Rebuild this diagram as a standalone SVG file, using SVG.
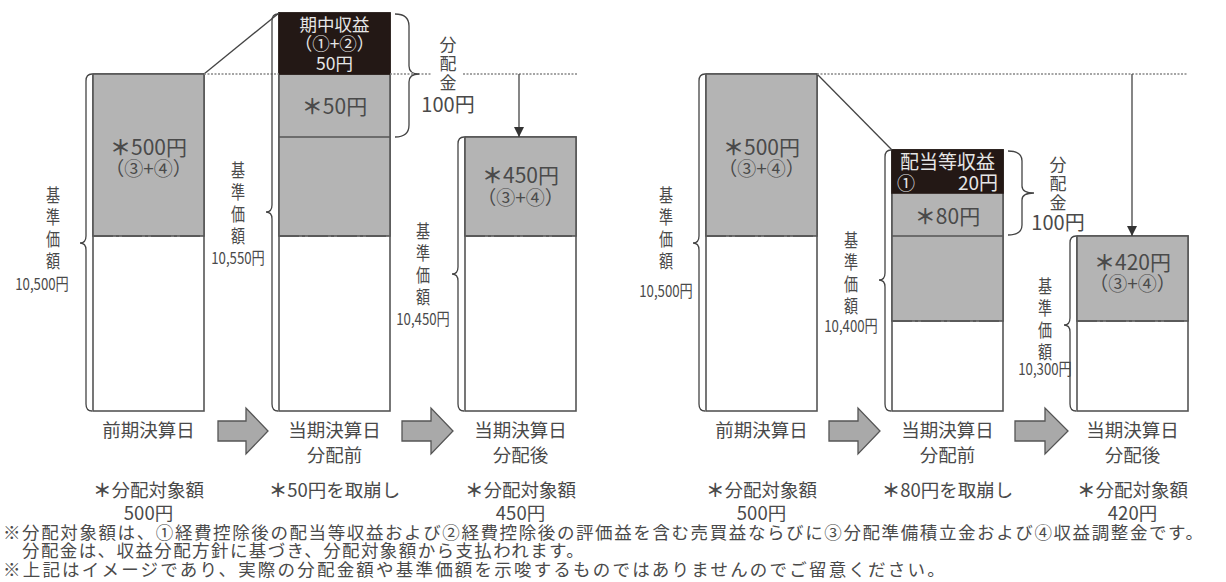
<svg xmlns="http://www.w3.org/2000/svg" width="1226" height="582" viewBox="0 0 1226 582">
<style>
text{font-family:"Noto Sans CJK JP","Noto Sans CJK SC",sans-serif;fill:#4a4a4a}
.bar{fill:#fff;stroke:#555;stroke-width:1.6}
.gray{fill:#b4b4b4;stroke:#555;stroke-width:1.6}
.blk{fill:#231815;stroke:#231815;stroke-width:1.6}
.dash{stroke:#5a5a5a;stroke-width:2;stroke-dasharray:20 3 3 3;fill:none}
.sep{stroke:#555;stroke-width:1.6}
.brace{fill:none;stroke:#444;stroke-width:1.3}
.dot{stroke:#888;stroke-width:1.6;stroke-dasharray:2 1.5;fill:none}
.line{stroke:#444;stroke-width:1.3;fill:none}
.big{font-size:21px;text-anchor:middle}
.sub{font-size:19px}
.inv{fill:#e6e6e6;font-size:17.5px;text-anchor:middle}
.lab{font-size:18.5px;text-anchor:middle}
.vt{font-size:18px;writing-mode:vertical-rl;letter-spacing:4px}
.vt2{font-size:17px;writing-mode:vertical-rl;letter-spacing:2px}
.val{font-size:16.5px;text-anchor:middle}
.note{font-size:17.5px}
.ast{font-weight:700}
.blkarrow{fill:#a9a9a9;stroke:#555;stroke-width:1.3}
</style>
<defs>
<marker id="ah" viewBox="0 0 10 10" refX="10" refY="5" markerWidth="10" markerHeight="10" markerUnits="userSpaceOnUse" orient="auto">
<path d="M0,0 L10,5 L0,10 Z" fill="#333"/>
</marker>
</defs>

<!-- LEFT DIAGRAM -->
<g id="left-bar1">
<rect class="bar" x="93" y="74" width="111" height="337"/>
<rect class="gray" x="93" y="74" width="111" height="162"/>
<line class="dash" x1="93" y1="236" x2="204" y2="236"/>
<text class="big" x="148.5" y="155"><tspan class="ast">＊</tspan>500円<tspan class="sub" x="148.5" y="176">（③+④）</tspan></text>
</g>
<g id="left-bar2">
<rect class="bar" x="279" y="13" width="111" height="398"/>
<rect class="gray" x="279" y="74" width="111" height="162"/>
<line class="sep" x1="279" y1="137" x2="390" y2="137"/>
<rect class="blk" x="279" y="13" width="111" height="61"/>
<line class="dash" x1="279" y1="236" x2="390" y2="236"/>
<text class="inv" x="334.5" y="31">期中収益<tspan x="334.5" y="50">（①+②）</tspan><tspan x="334.5" y="70">50円</tspan></text>
<text class="big" x="334.5" y="114"><tspan class="ast">＊</tspan>50円</text>
</g>
<g id="left-bar3">
<rect class="bar" x="465" y="137" width="111" height="274"/>
<rect class="gray" x="465" y="137" width="111" height="99"/>
<line class="dash" x1="465" y1="236" x2="576" y2="236"/>
<text class="big" x="520.5" y="183"><tspan class="ast">＊</tspan>450円<tspan class="sub" x="520.5" y="205">（③+④）</tspan></text>
</g>
<g id="left-labels">
<text class="vt" transform="translate(53,186) scale(0.78,1)" x="0" y="0">基準価額</text>
<text class="val" transform="translate(42,290) scale(0.8,1)" x="0" y="0">10,500円</text>
<text class="vt" transform="translate(238,161) scale(0.78,1)" x="0" y="0">基準価額</text>
<text class="val" transform="translate(238,264) scale(0.8,1)" x="0" y="0">10,550円</text>
<text class="vt" transform="translate(423,222) scale(0.78,1)" x="0" y="0">基準価額</text>
<text class="val" transform="translate(423,325) scale(0.8,1)" x="0" y="0">10,450円</text>
<text class="vt2" x="448" y="36">分配金</text>
<text class="big" x="448" y="112" style="font-size:20px">100円</text>
<text class="lab" x="148.5" y="437">前期決算日</text>
<text class="lab" x="334.5" y="437">当期決算日<tspan x="334.5" y="462">分配前</tspan></text>
<text class="lab" x="520.5" y="437">当期決算日<tspan x="520.5" y="462">分配後</tspan></text>
<text class="lab" x="148.5" y="497"><tspan class="ast">＊</tspan>分配対象額<tspan x="148.5" y="520">500円</tspan></text>
<text class="lab" x="334.5" y="497"><tspan class="ast">＊</tspan>50円を取崩し</text>
<text class="lab" x="520.5" y="497"><tspan class="ast">＊</tspan>分配対象額<tspan x="520.5" y="520">450円</tspan></text>
</g>

<!-- RIGHT DIAGRAM -->
<g id="right-bar1">
<rect class="bar" x="706" y="74" width="111" height="337"/>
<rect class="gray" x="706" y="74" width="111" height="162"/>
<line class="dash" x1="706" y1="236" x2="817" y2="236"/>
<text class="big" x="761.5" y="155"><tspan class="ast">＊</tspan>500円<tspan class="sub" x="761.5" y="176">（③+④）</tspan></text>
</g>
<g id="right-bar2">
<rect class="bar" x="892" y="150" width="111" height="261"/>
<rect class="gray" x="892" y="150" width="111" height="171"/>
<line class="sep" x1="892" y1="236" x2="1003" y2="236"/>
<rect class="blk" x="892" y="150" width="111" height="43"/>
<line class="dash" x1="892" y1="321" x2="1003" y2="321"/>
<text class="inv" x="947.5" y="169" style="font-size:19px">配当等収益<tspan x="897" y="190" style="text-anchor:start;font-size:18px">①</tspan><tspan x="998" y="190" style="text-anchor:end">20円</tspan></text>
<text class="big" x="947.5" y="224"><tspan class="ast">＊</tspan>80円</text>
</g>
<g id="right-bar3">
<rect class="bar" x="1077" y="236" width="111" height="175"/>
<rect class="gray" x="1077" y="236" width="111" height="85"/>
<line class="dash" x1="1077" y1="321" x2="1188" y2="321"/>
<text class="big" x="1132.5" y="270"><tspan class="ast">＊</tspan>420円<tspan class="sub" x="1132.5" y="291">（③+④）</tspan></text>
</g>
<g id="right-labels">
<text class="vt" transform="translate(666,186) scale(0.78,1)" x="0" y="0">基準価額</text>
<text class="val" transform="translate(666,297) scale(0.8,1)" x="0" y="0">10,500円</text>
<text class="vt" transform="translate(851,231) scale(0.78,1)" x="0" y="0">基準価額</text>
<text class="val" transform="translate(851,332) scale(0.8,1)" x="0" y="0">10,400円</text>
<text class="vt" transform="translate(1045,277) scale(0.78,1)" x="0" y="0">基準価額</text>
<text class="val" transform="translate(1045,375) scale(0.8,1)" x="0" y="0">10,300円</text>
<text class="vt2" x="1058" y="156">分配金</text>
<text class="big" x="1058" y="230" style="font-size:20px">100円</text>
<text class="lab" x="761.5" y="437">前期決算日</text>
<text class="lab" x="947.5" y="437">当期決算日<tspan x="947.5" y="462">分配前</tspan></text>
<text class="lab" x="1132.5" y="437">当期決算日<tspan x="1132.5" y="462">分配後</tspan></text>
<text class="lab" x="761.5" y="497"><tspan class="ast">＊</tspan>分配対象額<tspan x="761.5" y="520">500円</tspan></text>
<text class="lab" x="947.5" y="497"><tspan class="ast">＊</tspan>80円を取崩し</text>
<text class="lab" x="1132.5" y="497"><tspan class="ast">＊</tspan>分配対象額<tspan x="1132.5" y="520">420円</tspan></text>
</g>

<g id="connectors">
<!-- left -->
<line class="line" x1="204" y1="74" x2="279" y2="13"/>
<path class="dot" d="M204,74 H279 M390,74 H432 M463,74 H577"/>
<line class="line" x1="519" y1="74" x2="519" y2="137" marker-end="url(#ah)"/>
<path class="brace" d="M92,74 q-6,0 -6,7 L86,236 q0,7 -6,7 q6,0 6,7 L86,404 q0,7 6,7"/>
<path class="brace" d="M278,14 q-6,0 -6,7 L272,205 q0,7 -6,7 q6,0 6,7 L272,404 q0,7 6,7"/>
<path class="brace" d="M464,137 q-6,0 -6,7 L458,267 q0,7 -6,7 q6,0 6,7 L458,404 q0,7 6,7"/>
<path class="brace" d="M395,14 q14,0 14,12 L409,66 q0,8 10,8 q-10,0 -10,8 L409,125 q0,12 -14,12"/>
<path class="blkarrow" d="M218,421 H246 V408 L268,431 L246,454 V441 H218 Z"/>
<path class="blkarrow" d="M402,421 H431 V408 L453,431 L431,454 V441 H402 Z"/>
<!-- right -->
<line class="line" x1="817" y1="74" x2="892" y2="150"/>
<path class="dot" d="M817,74 H1188"/>
<line class="line" x1="1132" y1="74" x2="1132" y2="236" marker-end="url(#ah)"/>
<path class="brace" d="M705,74 q-6,0 -6,7 L699,236 q0,7 -6,7 q6,0 6,7 L699,404 q0,7 6,7"/>
<path class="brace" d="M891,150 q-6,0 -6,7 L885,273 q0,7 -6,7 q6,0 6,7 L885,404 q0,7 6,7"/>
<path class="brace" d="M1076,236 q-6,0 -6,7 L1070,318 q0,7 -6,7 q6,0 6,7 L1070,404 q0,7 6,7"/>
<path class="brace" d="M1008,151 q14,0 14,10 L1022,186 q0,7 12,7 q-12,0 -12,7 L1022,225 q0,10 -14,10"/>
<path class="blkarrow" d="M829,421 H858 V408 L880,431 L858,454 V441 H829 Z"/>
<path class="blkarrow" d="M1015,421 H1045 V408 L1068,431 L1045,454 V441 H1015 Z"/>
</g>

<g id="notes">
<text class="note" x="3" y="539" style="letter-spacing:1.6px">※分配対象額は、①経費控除後の配当等収益および②経費控除後の評価益を含む売買益ならびに③分配準備積立金および④収益調整金です。<tspan x="22" y="557" style="letter-spacing:1.4px">分配金は、収益分配方針に基づき、分配対象額から支払われます。</tspan><tspan x="3" y="576" style="letter-spacing:2.2px">※上記はイメージであり、実際の分配金額や基準価額を示唆するものではありませんのでご留意ください。</tspan></text>
</g>
</svg>
